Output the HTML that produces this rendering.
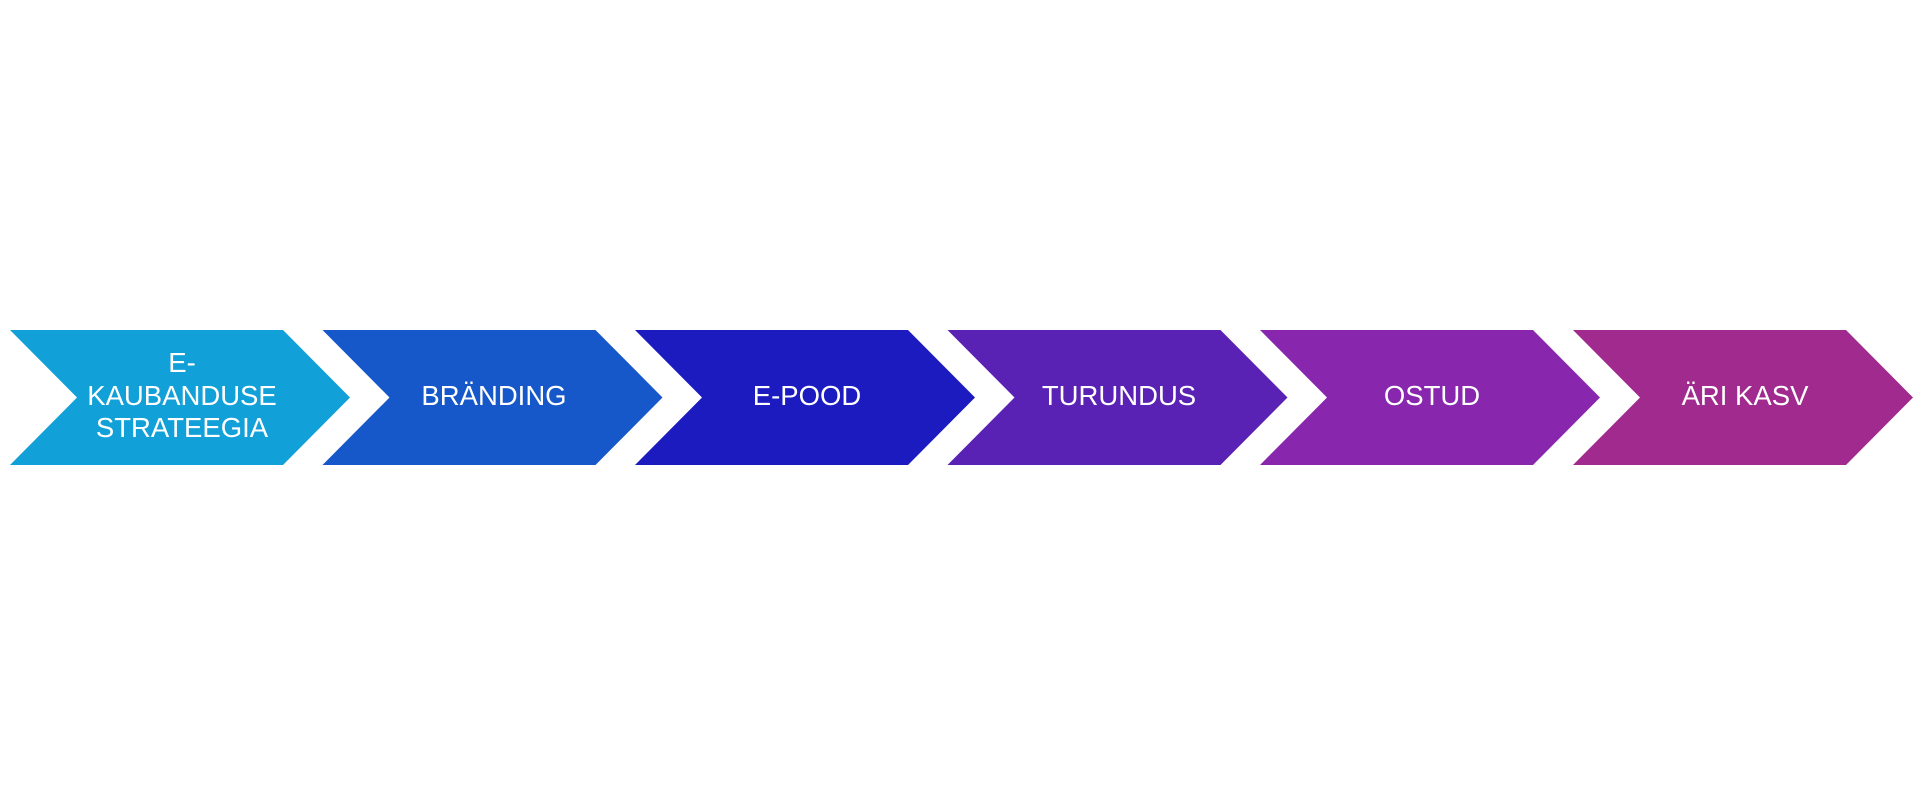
<!DOCTYPE html>
<html><head><meta charset="utf-8"><style>
html,body{margin:0;padding:0;background:#fff;width:1920px;height:796px;overflow:hidden}
svg text{font-family:"Liberation Sans",sans-serif;font-size:27.5px;fill:#fff;text-anchor:middle}
</style></head><body>
<svg width="1920" height="796" viewBox="0 0 1920 796">
<g>
<polygon points="10,330 283,330 350,397.5 283,465 10,465 77,397.5" fill="#12a0d8"/>
<polygon points="322.5,330 595.5,330 662.5,397.5 595.5,465 322.5,465 389.5,397.5" fill="#1657c9"/>
<polygon points="635,330 908,330 975,397.5 908,465 635,465 702,397.5" fill="#1c1bc0"/>
<polygon points="947.5,330 1220.5,330 1287.5,397.5 1220.5,465 947.5,465 1014.5,397.5" fill="#5a21b5"/>
<polygon points="1260,330 1533,330 1600,397.5 1533,465 1260,465 1327,397.5" fill="#8826ae"/>
<polygon points="1573,330 1846,330 1913,397.5 1846,465 1573,465 1640,397.5" fill="#a02a8e"/>
</g>
<text x="182" y="372">E-</text>
<text x="182" y="405">KAUBANDUSE</text>
<text x="182" y="437">STRATEEGIA</text>
<text x="494" y="405">BRÄNDING</text>
<text x="807" y="405">E-POOD</text>
<text x="1119" y="405">TURUNDUS</text>
<text x="1432" y="405">OSTUD</text>
<text x="1745" y="405">ÄRI KASV</text>
</svg>
</body></html>
